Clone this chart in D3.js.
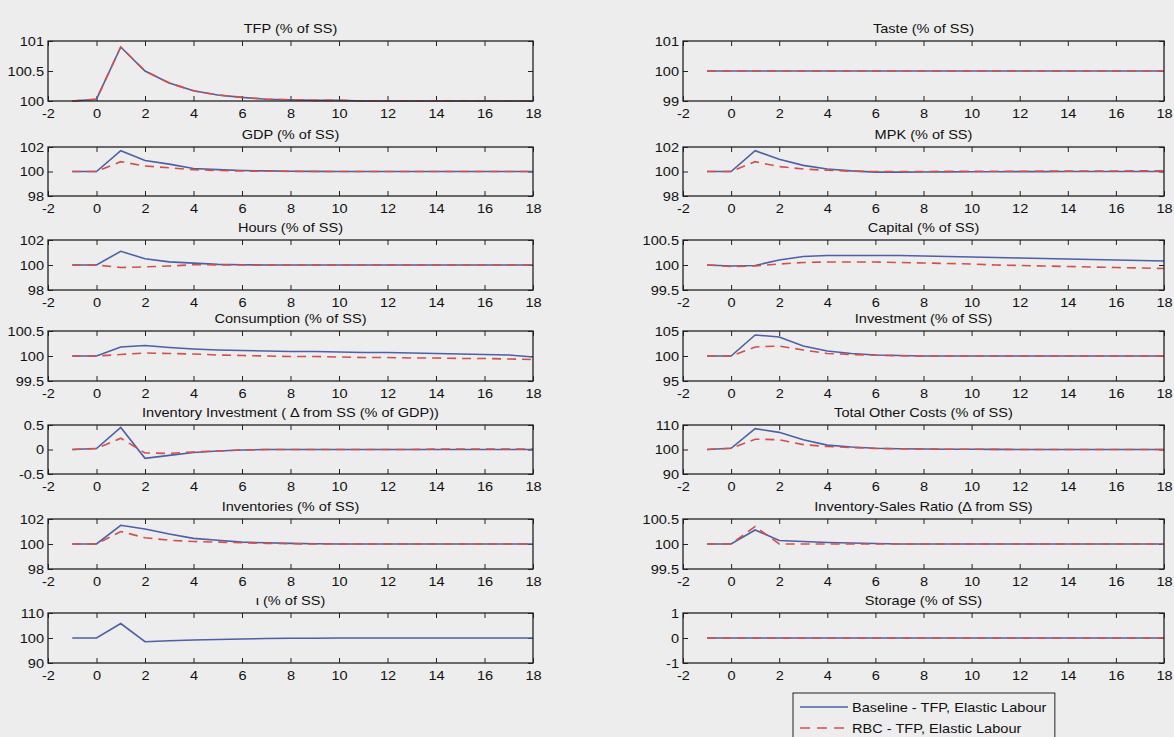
<!DOCTYPE html>
<html>
<head>
<meta charset="utf-8">
<script src="https://cdn.jsdelivr.net/npm/d3@7"></script>
<style>
  html, body { margin: 0; padding: 0; background: #ededed; }
  svg { display: block; }
  text { font-family: "Liberation Sans", Arial, Helvetica, sans-serif; fill: #111; }
</style>
</head>
<body>
<svg id="chart" width="1174" height="737"></svg>
<script>
// Impulse responses to a TFP shock, quarters after the shock
const periods = [-1, 0, 1, 2, 3, 4, 5, 6, 7, 8, 9, 10, 11, 12, 13, 14, 15, 16, 17, 18];
const xTicks = [-2, 0, 2, 4, 6, 8, 10, 12, 14, 16, 18];

// Left column series
const tfpBase  = [100, 100.03, 100.9, 100.5, 100.3, 100.17, 100.1, 100.06, 100.03, 100.02, 100.01, 100.01, 100, 100, 100, 100, 100, 100, 100, 100];
const tfpRbc   = [100, 100.03, 100.9, 100.5, 100.3, 100.17, 100.1, 100.06, 100.03, 100.02, 100.01, 100.01, 100, 100, 100, 100, 100, 100, 100, 100];
const gdpBase  = [100, 100, 101.7, 100.9, 100.6, 100.25, 100.15, 100.08, 100.05, 100.02, 100.01, 100, 100, 100, 100, 100, 100, 100, 100, 100];
const gdpRbc   = [100, 100, 100.8, 100.45, 100.3, 100.15, 100.08, 100.04, 100.02, 100.01, 100, 100, 100, 100, 100, 100, 100, 100, 100, 100];
const hoursBase = [100, 100, 101.1, 100.5, 100.25, 100.15, 100.05, 100.02, 100, 100, 100, 100, 100, 100, 100, 100, 100, 100, 100, 100];
const hoursRbc  = [100, 100, 99.8, 99.85, 99.92, 100.02, 100.01, 100, 100, 100, 100, 100, 100, 100, 100, 100, 100, 100, 100, 100];
const consBase = [100, 100, 100.18, 100.21, 100.17, 100.14, 100.12, 100.11, 100.1, 100.09, 100.09, 100.08, 100.07, 100.07, 100.06, 100.05, 100.04, 100.03, 100.02, 99.98];
const consRbc  = [100, 100, 100.03, 100.06, 100.05, 100.04, 100.02, 100.01, 100, 99.99, 99.99, 99.98, 99.97, 99.97, 99.96, 99.96, 99.95, 99.95, 99.94, 99.93];
const invInvBase = [0, 0.02, 0.45, -0.18, -0.12, -0.06, -0.03, -0.01, 0, 0, 0, 0, 0, 0, 0, 0, 0, 0, 0, 0];
const invInvRbc  = [0, 0.02, 0.23, -0.07, -0.08, -0.05, -0.03, -0.01, 0, 0, 0, 0, 0, 0, 0, 0.01, 0.01, 0.01, 0.01, 0.01];
const invBase  = [100, 100, 101.5, 101.2, 100.8, 100.45, 100.3, 100.15, 100.1, 100.05, 100.02, 100, 100, 100, 100, 100, 100, 100, 100, 100];
const invRbc   = [100, 100, 101.0, 100.5, 100.3, 100.2, 100.15, 100.1, 100.05, 100.02, 100, 100, 100, 100, 100, 100, 100, 100, 100, 100];
const iotaBase = [100, 100, 105.8, 98.5, 98.9, 99.2, 99.4, 99.6, 99.8, 99.9, 99.9, 100, 100, 100, 100, 100, 100, 100, 100, 100];

// Right column series
const tasteBase = [100, 100, 100, 100, 100, 100, 100, 100, 100, 100, 100, 100, 100, 100, 100, 100, 100, 100, 100, 100];
const tasteRbc  = [100, 100, 100, 100, 100, 100, 100, 100, 100, 100, 100, 100, 100, 100, 100, 100, 100, 100, 100, 100];
const mpkBase  = [100, 100, 101.7, 101.0, 100.5, 100.2, 100.05, 99.95, 99.95, 99.96, 99.97, 99.98, 99.98, 99.99, 99.99, 100, 100, 100, 100, 100];
const mpkRbc   = [100, 100, 100.8, 100.4, 100.2, 100.1, 100.02, 100, 100, 100, 100.01, 100.01, 100.02, 100.02, 100.03, 100.03, 100.04, 100.04, 100.05, 100.05];
const capBase  = [100, 99.98, 99.99, 100.1, 100.17, 100.19, 100.19, 100.19, 100.19, 100.18, 100.17, 100.16, 100.15, 100.14, 100.13, 100.12, 100.11, 100.1, 100.09, 100.08];
const capRbc   = [100, 99.97, 99.98, 100.02, 100.05, 100.06, 100.06, 100.06, 100.05, 100.04, 100.03, 100.02, 100, 99.99, 99.98, 99.97, 99.96, 99.95, 99.94, 99.93];
const investBase = [100, 100, 104.2, 103.8, 102.0, 101.0, 100.5, 100.2, 100.1, 100, 100, 100, 100, 100, 100, 100, 100, 100, 100, 100];
const investRbc  = [100, 100, 101.8, 102.0, 101.2, 100.5, 100.3, 100.15, 100.05, 100, 100, 100, 100, 100, 100, 100, 100, 100, 100, 100];
const costBase = [100, 100.5, 108.5, 107.0, 104.0, 101.8, 101.0, 100.5, 100.3, 100.2, 100.1, 100.1, 100.05, 100, 100, 100, 100, 100, 100, 100];
const costRbc  = [100, 100.5, 104.2, 104.0, 102.0, 101.2, 100.8, 100.4, 100.3, 100.2, 100.1, 100.1, 100.05, 100, 100, 100, 100, 100, 100, 100];
const isrBase  = [100, 100, 100.28, 100.07, 100.05, 100.03, 100.02, 100.01, 100, 100, 100, 100, 100, 100, 100, 100, 100, 100, 100, 100];
const isrRbc   = [100, 100, 100.35, 100.0, 100.0, 100.0, 100.0, 100, 100, 100, 100, 100, 100, 100, 100, 100, 100, 100, 100, 100];
const storBase = [0, 0, 0, 0, 0, 0, 0, 0, 0, 0, 0, 0, 0, 0, 0, 0, 0, 0, 0, 0];
const storRbc  = [0, 0, 0, 0, 0, 0, 0, 0, 0, 0, 0, 0, 0, 0, 0, 0, 0, 0, 0, 0];

// Panel titles and y-axis ticks
const leftTitles = ["TFP (% of SS)", "GDP (% of SS)", "Hours (% of SS)", "Consumption (% of SS)",
  "Inventory Investment ( \u0394 from SS (% of GDP))", "Inventories (% of SS)", "\u03b9 (% of SS)"];
const rightTitles = ["Taste (% of SS)", "MPK (% of SS)", "Capital (% of SS)", "Investment (% of SS)",
  "Total Other Costs (% of SS)", "Inventory-Sales Ratio (\u0394 from SS)", "Storage (% of SS)"];
const leftYTicks = [[100, 100.5, 101], [98, 100, 102], [98, 100, 102], [99.5, 100, 100.5],
  [-0.5, 0, 0.5], [98, 100, 102], [90, 100, 110]];
const rightYTicks = [[99, 100, 101], [98, 100, 102], [99.5, 100, 100.5], [95, 100, 105],
  [90, 100, 110], [99.5, 100, 100.5], [-1, 0, 1]];
const leftBase = [tfpBase, gdpBase, hoursBase, consBase, invInvBase, invBase, iotaBase];
const leftRbc  = [tfpRbc, gdpRbc, hoursRbc, consRbc, invInvRbc, invRbc, null];
const rightBase = [tasteBase, mpkBase, capBase, investBase, costBase, isrBase, storBase];
const rightRbc  = [tasteRbc, mpkRbc, capRbc, investRbc, costRbc, isrRbc, storRbc];
const legendLabels = ["Baseline - TFP, Elastic Labour", "RBC - TFP, Elastic Labour"];

// Layout
const rowTop = [41, 147, 240, 331, 425, 519, 613];
const rowBot = [101, 196, 290, 381, 474, 569, 663];
const cols = [{x0: 48, x1: 533}, {x0: 683, x1: 1164}];
const blue = "#4d5fa6";
const red = "#d2504a";
const FS = 13;
const K = 1.12;   // horizontal widening of the lettering

const svg = d3.select("#chart");

// widen a text selection horizontally about its own x anchor
function widen(sel) {
  sel.each(function () {
    const t = d3.select(this);
    const x = +t.attr("x") || 0;
    t.attr("transform", `translate(${x * (1 - K)},0) scale(${K},1)`);
  });
}

function panel(col, row, title, yTicks, base, rbc) {
  const c = cols[col];
  const x = d3.scaleLinear().domain([-2, 18]).range([c.x0, c.x1]);
  const y = d3.scaleLinear().domain([yTicks[0], yTicks[yTicks.length - 1]]).range([rowBot[row], rowTop[row]]);
  const g = svg.append("g");
  const fmt = d => String(d);
  const tk = 5;

  // bottom axis with inward ticks and labels
  const xb = g.append("g").attr("transform", `translate(0,${rowBot[row]})`)
    .call(d3.axisBottom(x).tickValues(xTicks).tickFormat(fmt).tickSizeInner(-tk).tickSizeOuter(0).tickPadding(8));
  // top axis ticks only
  const xt = g.append("g").attr("transform", `translate(0,${rowTop[row]})`)
    .call(d3.axisTop(x).tickValues(xTicks).tickFormat("").tickSizeInner(-tk).tickSizeOuter(0));
  // left axis with labels
  const yl = g.append("g").attr("transform", `translate(${c.x0},0)`)
    .call(d3.axisLeft(y).tickValues(yTicks).tickFormat(fmt).tickSizeInner(-tk).tickSizeOuter(0).tickPadding(4));
  // right axis ticks only
  const yr = g.append("g").attr("transform", `translate(${c.x1},0)`)
    .call(d3.axisRight(y).tickValues(yTicks).tickFormat("").tickSizeInner(-tk).tickSizeOuter(0));
  [xb, xt, yl, yr].forEach(a => {
    a.select(".domain").remove();
    a.selectAll("line").attr("stroke", "#222").attr("stroke-width", 1);
    a.selectAll("text").attr("font-size", FS).attr("font-family", "Liberation Sans, Arial, sans-serif").attr("fill", "#111");
  });
  widen(xb.selectAll("text"));
  widen(yl.selectAll("text"));

  // lines
  const line = d3.line().x((d, i) => x(periods[i])).y(d => y(d));
  g.append("path").datum(base).attr("d", line)
    .attr("fill", "none").attr("stroke", blue).attr("stroke-width", 1.6);
  if (rbc) {
    g.append("path").datum(rbc).attr("d", line)
      .attr("fill", "none").attr("stroke", red).attr("stroke-width", 1.6)
      .attr("stroke-dasharray", "9,6");
  }

  // box
  g.append("rect").attr("x", c.x0).attr("y", rowTop[row])
    .attr("width", c.x1 - c.x0).attr("height", rowBot[row] - rowTop[row])
    .attr("fill", "none").attr("stroke", "#222").attr("stroke-width", 1.3);

  // title
  const t = g.append("text").attr("x", (c.x0 + c.x1) / 2).attr("y", rowTop[row] - 8)
    .attr("text-anchor", "middle").attr("font-size", FS).text(title);
  widen(t);
}

for (let r = 0; r < 7; r++) {
  panel(0, r, leftTitles[r], leftYTicks[r], leftBase[r], leftRbc[r]);
  panel(1, r, rightTitles[r], rightYTicks[r], rightBase[r], rightRbc[r]);
}

// Legend
const lg = svg.append("g");
const legendStyles = [{color: blue, dash: null}, {color: red, dash: "10,7"}];
const texts = [];
legendLabels.forEach((lab, i) => {
  const yy = 707 + i * 21;
  lg.append("line").attr("x1", 800).attr("x2", 848).attr("y1", yy).attr("y2", yy)
    .attr("stroke", legendStyles[i].color).attr("stroke-width", 1.6)
    .attr("stroke-dasharray", legendStyles[i].dash);
  const t = lg.append("text").attr("x", 852).attr("y", yy).attr("dy", "0.35em")
    .attr("font-size", FS).text(lab);
  widen(t);
  texts.push(t.node());
});
const textRight = d3.max(texts, n => { const b = n.getBBox(); return 852 + b.width * K; });
lg.insert("rect", ":first-child").attr("x", 793).attr("y", 693).attr("width", textRight + 8 - 793).attr("height", 52)
  .attr("fill", "#ededed").attr("stroke", "#222").attr("stroke-width", 1);
</script>
</body>
</html>
